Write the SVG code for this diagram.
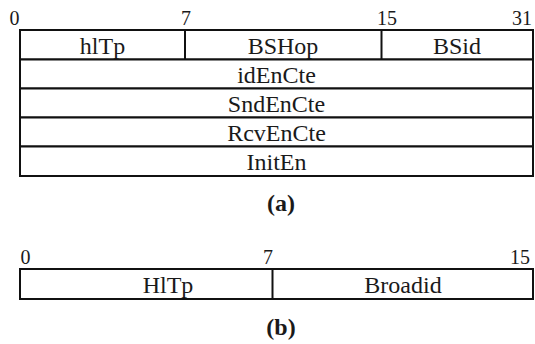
<svg xmlns="http://www.w3.org/2000/svg" width="535" height="344" viewBox="0 0 535 344">
  <style>
    .box { fill: #ffffff; stroke: #111111; stroke-width: 2; }
    .div { stroke: #111111; stroke-width: 2; fill: none; }
    .lbl { font-family: "Liberation Serif", "Times New Roman", serif; font-size: 24px; fill: #1a1a1a; text-anchor: middle; }
    .bit { font-family: "Liberation Serif", "Times New Roman", serif; font-size: 20px; fill: #1a1a1a; }
    .cap { font-family: "Liberation Serif", "Times New Roman", serif; font-size: 24px; font-weight: bold; fill: #1a1a1a; text-anchor: middle; }
  </style>
  <rect width="535" height="344" fill="#ffffff"/>

  <!-- (a) 32-bit header -->
  <g id="header-a">
    <text class="bit" x="14.5" y="25" text-anchor="middle">0</text>
    <text class="bit" x="186" y="25" text-anchor="middle">7</text>
    <text class="bit" x="387" y="25" text-anchor="middle">15</text>
    <text class="bit" x="532" y="25" text-anchor="end">31</text>
    <g id="row-1">
      <rect class="box" x="20" y="30" width="513" height="29.5"/>
      <line class="div" x1="185" y1="30" x2="185" y2="59.5"/>
      <line class="div" x1="381.5" y1="30" x2="381.5" y2="59.5"/>
      <text class="lbl" x="102.5" y="54">hlTp</text>
      <text class="lbl" x="283" y="54">BSHop</text>
      <text class="lbl" x="457" y="54">BSid</text>
    </g>
    <g id="row-idEnCte">
      <rect class="box" x="20" y="59.5" width="513" height="29"/>
      <text class="lbl" x="276.5" y="82.5">idEnCte</text>
    </g>
    <g id="row-SndEnCte">
      <rect class="box" x="20" y="88.5" width="513" height="29"/>
      <text class="lbl" x="276.5" y="111.5">SndEnCte</text>
    </g>
    <g id="row-RcvEnCte">
      <rect class="box" x="20" y="117.5" width="513" height="29"/>
      <text class="lbl" x="276.5" y="140.5">RcvEnCte</text>
    </g>
    <g id="row-InitEn">
      <rect class="box" x="20" y="146.5" width="513" height="29.5"/>
      <text class="lbl" x="276.5" y="169.5">InitEn</text>
    </g>
    <text class="cap" x="281" y="211">(a)</text>
  </g>

  <!-- (b) 16-bit header -->
  <g id="header-b">
    <text class="bit" x="25.5" y="264" text-anchor="middle">0</text>
    <text class="bit" x="268" y="264" text-anchor="middle">7</text>
    <text class="bit" x="530" y="264" text-anchor="end">15</text>
    <g id="row-b">
      <rect class="box" x="20" y="269" width="513" height="30"/>
      <line class="div" x1="272.5" y1="269" x2="272.5" y2="299"/>
      <text class="lbl" x="168" y="293">HlTp</text>
      <text class="lbl" x="403" y="293">Broadid</text>
    </g>
    <text class="cap" x="281" y="335">(b)</text>
  </g>
</svg>
